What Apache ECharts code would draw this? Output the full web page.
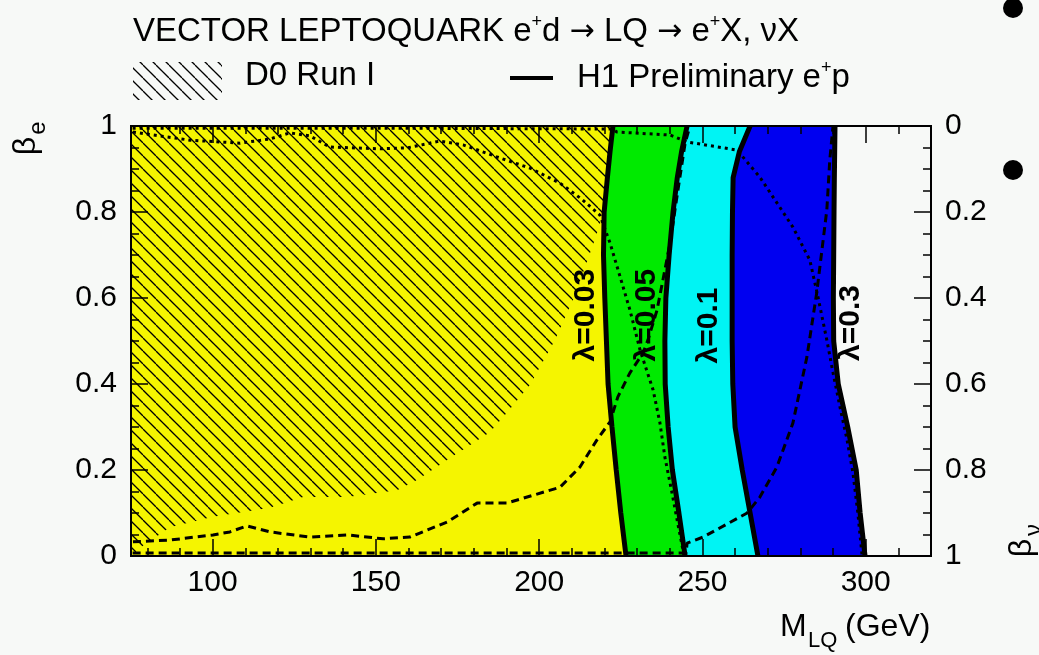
<!DOCTYPE html>
<html>
<head>
<meta charset="utf-8">
<script src="https://cdn.jsdelivr.net/npm/echarts@6/dist/echarts.min.js"></script>
<style>
html, body { margin: 0; padding: 0; background: #f7f9f7; }
#chart { width: 1039px; height: 655px; }
</style>
</head>
<body>
<div id="chart"></div>
<script>
// beta_e levels at which the lambda contours were read
const betaLevels = [0, 0.1, 0.2, 0.3, 0.4, 0.5, 0.6, 0.7, 0.8, 0.88, 0.94, 1];
// M_LQ (GeV) of each H1 contour at those levels
const lam003 = [226.6, 225.0, 223.6, 222.3, 221.1, 220.6, 220.1, 219.7, 219.9, 220.9, 221.7, 222.6];
const lam005 = [244.7, 242.8, 240.8, 239.5, 238.6, 238.5, 238.8, 239.8, 241.0, 242.3, 243.6, 245.3];
const lam01  = [267.0, 264.6, 262.2, 260.0, 259.3, 259.1, 259.1, 259.1, 259.2, 259.4, 261.3, 264.6];
const lam03  = [299.8, 298.3, 297.1, 294.5, 291.6, 290.2, 290.1, 290.2, 290.3, 290.4, 290.5, 290.6];

// D0 Run I excluded region, lower/right edge (joins lambda=0.03 at the top)
const d0Edge = [[75, 0], [78, 0.02], [86.9, 0.067], [100.1, 0.091], [117.6, 0.112], [127.7, 0.137],
  [141.2, 0.137], [156.5, 0.153], [162.6, 0.177], [171.8, 0.223], [184.9, 0.288], [190.1, 0.333],
  [197.2, 0.398], [204.8, 0.502], [211, 0.607], [217, 0.735], [219.8, 0.8], [220.9, 0.88],
  [221.7, 0.94], [222.6, 1], [75, 1]];

// dotted curves
const dotLeft = [[75.6, 0.986], [93.1, 0.967], [108.4, 0.96], [117.6, 0.97], [123.7, 0.984],
  [129.8, 0.977], [135.9, 0.951], [151.3, 0.947], [159.5, 0.949], [169.6, 0.965], [176.7, 0.956],
  [187.1, 0.928], [197.2, 0.902], [206.4, 0.867], [213, 0.83], [218.6, 0.793], [221.7, 0.728],
  [224.8, 0.649], [227.8, 0.572], [230.9, 0.479], [233, 0.43], [234.9, 0.386], [237, 0.309],
  [238.5, 0.23], [240.6, 0.15], [242.6, 0.07], [244.4, 0]];
const dotRight = [[75.5, 0.995], [150, 0.995], [222.5, 0.993], [223.8, 0.986], [240.1, 0.979],
  [245.3, 0.963], [260.6, 0.944], [267.6, 0.881], [277.7, 0.765], [282.9, 0.688], [285.4, 0.602],
  [288.1, 0.502], [290, 0.426], [292.3, 0.34], [294.3, 0.27], [296.1, 0.193], [297.6, 0.1], [298.9, 0]];

// dashed curves
const dashLeft = [[75.6, 0.033], [86.9, 0.037], [100.1, 0.049], [105.3, 0.056], [110.5, 0.07],
  [117.6, 0.056], [129.8, 0.044], [141.2, 0.049], [152.2, 0.04], [160.4, 0.044], [171.8, 0.079],
  [181, 0.123], [190.1, 0.123], [206.4, 0.16], [212.5, 0.207], [217.7, 0.27], [221.7, 0.312],
  [224.1, 0.37], [227.8, 0.426], [231.8, 0.472], [233.3, 0.502], [236.1, 0.572], [237.9, 0.642],
  [240.1, 0.728], [241.6, 0.805], [243.1, 0.881], [244.7, 0.96], [246.2, 1]];
const dashRight = [[75.5, 0.007], [245, 0.007], [245.3, 0.03], [250.2, 0.044], [263.7, 0.1],
  [267.6, 0.137], [272.8, 0.207], [277.7, 0.309], [282, 0.463], [285, 0.612], [288.1, 0.805],
  [289, 0.921], [290, 1]];

// contour labels
const labelText = ['λ=0.03', 'λ=0.05', 'λ=0.1', 'λ=0.3'];
const labelMass = [214.3, 233.0, 252.0, 295.4];
const labelBeta = [0.56, 0.56, 0.536, 0.542];

// axes
const xTicks = [100, 150, 200, 250, 300];
const xMinorTicks = [80, 90, 110, 120, 130, 140, 160, 170, 180, 190, 210, 220, 230, 240, 260, 270, 280, 290, 310];
const yTicks = [0, 0.2, 0.4, 0.6, 0.8, 1];
const yMinorTicks = [0.05, 0.1, 0.15, 0.25, 0.3, 0.35, 0.45, 0.5, 0.55, 0.65, 0.7, 0.75, 0.85, 0.9, 0.95];

const FONT = '"Liberation Sans", Arial, Helvetica, sans-serif';

// hatch pattern for D0 region
function hatch(size) {
  const c = document.createElement('canvas');
  c.width = size; c.height = size;
  const g = c.getContext('2d');
  g.strokeStyle = '#000';
  g.lineWidth = 1.3;
  [-size, 0, size].forEach(k => {
    g.beginPath(); g.moveTo(k, 0); g.lineTo(k + size, size); g.stroke();
  });
  return c;
}
const hatchImg = hatch(13);

function contour(xs) {
  return xs.map((x, i) => [x, betaLevels[i]]);
}
function band(left, right) {
  return contour(left).concat(contour(right).reverse());
}

function polySeries(points, fill) {
  return {
    type: 'custom',
    coordinateSystem: 'cartesian2d',
    silent: true,
    z: 1,
    data: [[75, 0]],
    renderItem: (params, api) => ({
      type: 'polygon',
      shape: { points: points.map(p => api.coord(p)) },
      style: { fill: fill, stroke: null }
    })
  };
}

function lineSeries(data, width, type) {
  return {
    type: 'line',
    data: data,
    symbol: 'none',
    silent: true,
    z: 4,
    lineStyle: { color: '#000', width: width, type: type }
  };
}

function xAxisCfg(pos, ticks, len, labels) {
  return {
    type: 'value', position: pos, min: 75, max: 320, z: 20,
    splitLine: { show: false },
    axisLine: { show: true, onZero: false, lineStyle: { color: '#000', width: 2 } },
    axisTick: { show: true, inside: true, length: len, customValues: ticks, lineStyle: { color: '#000', width: 1.5 } },
    axisLabel: labels ? { show: true, customValues: ticks, margin: 12, color: '#000', fontSize: 30, fontFamily: FONT }
                      : { show: false }
  };
}
function yAxisCfg(pos, ticks, len, labels, inverse) {
  return {
    type: 'value', position: pos, min: 0, max: 1, inverse: !!inverse, z: 20,
    splitLine: { show: false },
    axisLine: { show: true, onZero: false, lineStyle: { color: '#000', width: 2 } },
    axisTick: { show: true, inside: true, length: len, customValues: ticks, lineStyle: { color: '#000', width: 1.5 } },
    axisLabel: labels ? { show: true, customValues: ticks, margin: 14, color: '#000', fontSize: 30, fontFamily: FONT }
                      : { show: false }
  };
}

const yellowPts = [[75, 0]].concat(contour(lam003), [[75, 1]]);
const supRich = {
  n: { fontSize: 33, fontFamily: FONT, fill: '#000', lineHeight: 38 },
  a: { fontSize: 30, fontFamily: '"DejaVu Sans", sans-serif', fill: '#000', lineHeight: 38 },
  s: { fontSize: 18, fontFamily: FONT, fill: '#000', lineHeight: 38, verticalAlign: 'top' }
};

let myChart = echarts.init(document.getElementById('chart'));
let option = {
  backgroundColor: '#f7f9f7',
  animation: false,
  grid: { left: 131, top: 126, right: 108, bottom: 99 },
  xAxis: [
    xAxisCfg('bottom', xTicks, 17, true),
    xAxisCfg('bottom', xMinorTicks, 8, false),
    xAxisCfg('top', xTicks, 17, false),
    xAxisCfg('top', xMinorTicks, 8, false)
  ],
  yAxis: [
    yAxisCfg('left', yTicks, 17, true),
    yAxisCfg('left', yMinorTicks, 8, false),
    yAxisCfg('right', yTicks, 17, true, true),
    yAxisCfg('right', yMinorTicks, 8, false, true)
  ],
  series: [
    polySeries(yellowPts, '#f5f500'),
    polySeries(d0Edge, { image: hatchImg, repeat: 'repeat' }),
    polySeries(band(lam003, lam005), '#00ea00'),
    polySeries(band(lam005, lam01), '#00f4f4'),
    polySeries(band(lam01, lam03), '#0000f0'),
    lineSeries(dotLeft, 3, [3, 4]),
    lineSeries(dotRight, 3, [3, 4]),
    lineSeries(dashLeft, 3, [8, 5]),
    lineSeries(dashRight, 3, [8, 5]),
    lineSeries(contour(lam003), 5, 'solid'),
    lineSeries(contour(lam005), 5, 'solid'),
    lineSeries(contour(lam01), 5, 'solid'),
    lineSeries(contour(lam03), 5, 'solid'),
    {
      type: 'custom',
      coordinateSystem: 'cartesian2d',
      silent: true,
      z: 6,
      data: labelText.map((t, i) => [labelMass[i], labelBeta[i]]),
      renderItem: (params, api) => {
        const p = api.coord([api.value(0), api.value(1)]);
        return {
          type: 'text', x: p[0], y: p[1], rotation: Math.PI / 2,
          style: {
            text: labelText[params.dataIndex], fill: '#000',
            font: 'bold 30px ' + FONT, align: 'center', verticalAlign: 'middle'
          }
        };
      }
    }
  ],
  graphic: [
    {
      type: 'text', left: 133, top: 13,
      style: { text: '{n|VECTOR LEPTOQUARK e}{s|+}{n|d }{a|→}{n| LQ }{a|→}{n| e}{s|+}{n|X, νX}', rich: supRich }
    },
    { type: 'rect', shape: { x: 133, y: 62, width: 89, height: 38 }, style: { fill: { image: hatchImg, repeat: 'repeat' } } },
    { type: 'text', left: 245, top: 59, style: { text: 'D0 Run I', font: '33px ' + FONT, fill: '#000' } },
    { type: 'line', shape: { x1: 510, y1: 78, x2: 553, y2: 78 }, style: { stroke: '#000', lineWidth: 4 } },
    {
      type: 'text', left: 577, top: 59,
      style: { text: '{n|H1 Preliminary e}{s|+}{n|p}', rich: supRich }
    },
    { type: 'text', x: 26, y: 146, rotation: Math.PI / 2, style: { text: 'β', font: '32px ' + FONT, fill: '#000', align: 'center', verticalAlign: 'middle' } },
    { type: 'text', x: 38, y: 128, rotation: Math.PI / 2, style: { text: 'e', font: '24px ' + FONT, fill: '#000', align: 'center', verticalAlign: 'middle' } },
    { type: 'text', x: 1022, y: 548, rotation: Math.PI / 2, style: { text: 'β', font: '32px ' + FONT, fill: '#000', align: 'center', verticalAlign: 'middle' } },
    { type: 'text', x: 1034, y: 530, rotation: Math.PI / 2, style: { text: 'ν', font: '24px ' + FONT, fill: '#000', align: 'center', verticalAlign: 'middle' } },
    { type: 'text', x: 780, y: 643, style: { text: 'M', font: '32px ' + FONT, fill: '#000', verticalAlign: 'bottom' } },
    { type: 'text', x: 808, y: 652, style: { text: 'LQ', font: '22px ' + FONT, fill: '#000', verticalAlign: 'bottom' } },
    { type: 'text', x: 845, y: 643, style: { text: '(GeV)', font: '32px ' + FONT, fill: '#000', verticalAlign: 'bottom' } },
    { type: 'circle', shape: { cx: 1013, cy: 8, r: 10 }, style: { fill: '#000' } },
    { type: 'circle', shape: { cx: 1013, cy: 170, r: 10 }, style: { fill: '#000' } }
  ]
};
myChart.setOption(option);
</script>
</body>
</html>
